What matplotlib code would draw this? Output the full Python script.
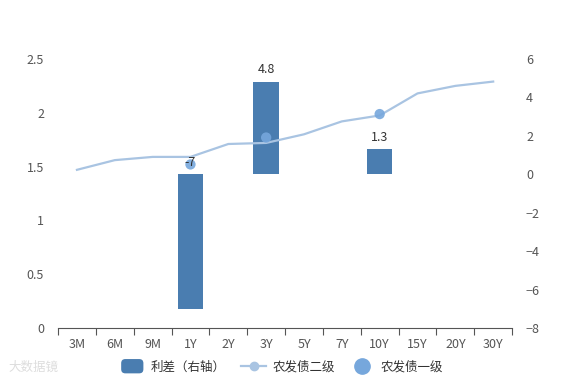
import matplotlib
matplotlib.use("Agg")
import matplotlib.pyplot as plt
import numpy as np
from matplotlib.lines import Line2D
from matplotlib.patches import FancyBboxPatch
from matplotlib.legend_handler import HandlerPatch

plt.rcParams['font.family'] = ['Noto Sans CJK SC', 'DejaVu Sans']

categories = ["3M", "6M", "9M", "1Y", "2Y", "3Y", "5Y", "7Y", "10Y", "15Y", "20Y", "30Y"]
level2 = [1.47, 1.56, 1.59, 1.59, 1.71, 1.72, 1.80, 1.92, 1.975, 2.18, 2.25, 2.29]
level1_cats = ["1Y", "3Y", "10Y"]
level1 = [1.52, 1.77, 1.988]
spread = [-7, 4.8, 1.3]
spread_labels = ["-7", "4.8", "1.3"]

bar_color = "#4a7db0"
line_color = "#a9c4e2"
dot_color = "#76a7dc"
text_color = "#555555"

fig = plt.figure(figsize=(5.69, 3.80), dpi=100)
ax = fig.add_axes([0.102, 0.1368, 0.798, 0.708])
ax2 = ax.twinx()

x = np.arange(len(categories))
idx = [categories.index(c) for c in level1_cats]

ax2.bar(idx, spread, width=0.67, color=bar_color, zorder=1)

ax.set_zorder(ax2.get_zorder() + 1)
ax.patch.set_visible(False)
ax.plot(x, level2, color=line_color, lw=1.6, zorder=3)
ax.scatter(idx, level1, s=55, color=dot_color, alpha=0.9, zorder=4, edgecolors="none")

for i, v, lab in zip(idx, spread, spread_labels):
    ytxt = max(v, 0)
    ax.text(i, ytxt + 0.3, lab, ha="center", va="bottom", fontsize=9,
            color="#333333", transform=ax2.transData, zorder=5)

ax.set_xlim(-0.5, len(categories) - 0.5)
ax.set_ylim(0, 2.5)
ax.set_yticks([0, 0.5, 1, 1.5, 2, 2.5])
ax.set_yticklabels(["0", "0.5", "1", "1.5", "2", "2.5"])
ax2.set_ylim(-8, 6)
ax2.set_yticks([-8, -6, -4, -2, 0, 2, 4, 6])

ax.set_xticks(x)
ax.set_xticklabels(categories)
ax.set_xticks(np.arange(-0.5, len(categories), 1), minor=True)
ax.tick_params(axis="x", which="major", length=0, pad=7, labelsize=9, labelcolor=text_color)
ax.tick_params(axis="x", which="minor", length=5, color="#555555", width=0.8)
ax.tick_params(axis="y", length=0, pad=10, labelsize=9, labelcolor=text_color)
ax2.tick_params(axis="y", length=0, pad=10, labelsize=9, labelcolor=text_color)

for a in (ax, ax2):
    for s in ("top", "left", "right", "bottom"):
        a.spines[s].set_visible(False)
ax.spines["bottom"].set_visible(True)
ax.spines["bottom"].set_color("#555555")
ax.spines["bottom"].set_linewidth(0.8)


class RoundRectHandler(HandlerPatch):
    def create_artists(self, legend, orig_handle, xdescent, ydescent, width, height, fontsize, trans):
        p = FancyBboxPatch((-xdescent + 1, -ydescent - 2), width - 2, height + 4,
                           boxstyle="round,pad=0,rounding_size=3",
                           facecolor=bar_color, edgecolor="none", transform=trans)
        return [p]


handles = [
    plt.Rectangle((0, 0), 1, 1, color=bar_color),
    Line2D([0], [0], color=line_color, lw=1.6, marker="o", markersize=6,
           markerfacecolor=line_color, markeredgecolor=line_color),
    Line2D([0], [0], color="none", marker="o", markersize=11,
           markerfacecolor=dot_color, markeredgecolor=dot_color),
]
labels = ["利差（右轴）", "农发债二级", "农发债一级"]
fig.legend(handles, labels, loc="center", bbox_to_anchor=(0.495, 0.034), ncol=3,
           frameon=False, fontsize=9, handlelength=2.0, handletextpad=0.5,
           columnspacing=1.2, labelcolor="#333333",
           handler_map={plt.Rectangle: RoundRectHandler()})

fig.text(0.015, 0.034, "大数据镜", fontsize=9, color="#dddddd", va="center")

fig.savefig("out.png", dpi=100)
